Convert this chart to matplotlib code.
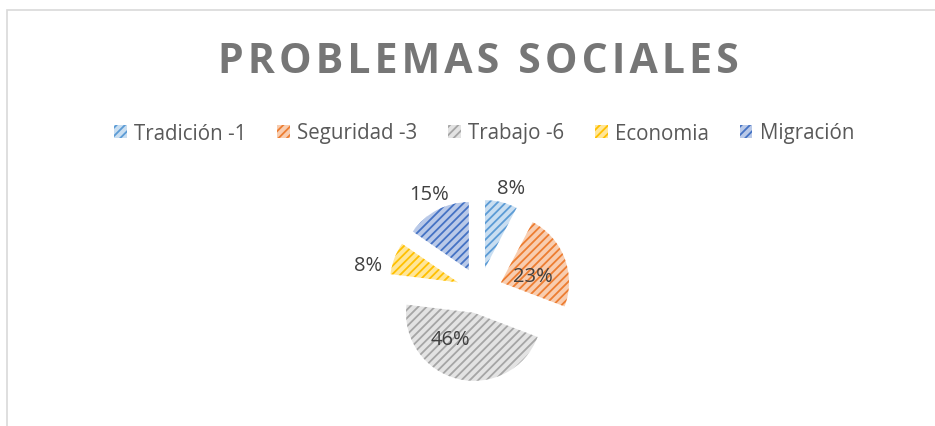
import matplotlib
matplotlib.use("Agg")
import matplotlib.pyplot as plt
from matplotlib.patches import Rectangle
import numpy as np

categories = ["Tradición -1", "Seguridad -3", "Trabajo -6", "Economia", "Migración"]
values = [1, 3, 6, 1, 2]
main_colors = ["#5B9BD5", "#ED7D31", "#A5A5A5", "#FFC000", "#4472C4"]
light_colors = ["#C9DEF1", "#F8CDB0", "#E3E3E3", "#FFE699", "#B9C9E8"]
title = "PROBLEMAS SOCIALES"

W, H = 935, 427
plt.rcParams['hatch.linewidth'] = 1.3
fig = plt.figure(figsize=(W / 100, H / 100), dpi=100)
fig.patch.set_facecolor("white")
ax = fig.add_axes([0, 0, 1, 1])

cx, cy, R = 479.5, H - 291.5, 68
explode = [23] * len(values)  # offset in pixel units of this axes
wedges, _ = ax.pie(values, colors=light_colors, startangle=90, counterclock=False,
                   explode=explode, radius=R, center=(cx, cy),
                   wedgeprops=dict(linewidth=0))
for w, mc in zip(wedges, main_colors):
    w.set_edgecolor(mc)
    w.set_linewidth(0)
    w.set_hatch("////")

ax.set_xlim(0, W)
ax.set_ylim(0, H)
ax.set_aspect("auto")
ax.axis("off")

# percentage labels
total = sum(values)
label_dist = [1.24, 0.48, 0.52, 1.35, 1.27]
label_dang = [-4, -10, -29, 10, 0]
for w, v, d, da in zip(wedges, values, label_dist, label_dang):
    ang = np.deg2rad((w.theta1 + w.theta2) / 2 + da)
    wx, wy = w.center
    ax.text(wx + d * R * np.cos(ang), wy + d * R * np.sin(ang),
            f"{100 * v / total:.0f}%", ha="center", va="center",
            fontsize=14.5, color="#404040", family="Open Sans")

# border
fig.add_artist(Rectangle((6.5 / W, -0.1), 2, (H - 11) / H + 0.1,
                         transform=fig.transFigure, fill=False,
                         edgecolor="#D9D9D9", linewidth=1.2))

spaced_title = "\u200a".join(title)
fig.text(478 / W, 1 - 63 / H, spaced_title, ha="center", va="center",
         fontsize=29.5, fontweight="bold", color="#767676",
         family=["Open Sans", "DejaVu Sans"])

leg = fig.legend(wedges, categories, ncol=5, loc="center",
                 bbox_to_anchor=(484 / W, 1 - 134 / H), frameon=False,
                 handlelength=0.62, handleheight=0.62,
                 handletextpad=0.35, columnspacing=1.5,
                 prop=dict(family="Open Sans", size=14.8))
for t in leg.get_texts():
    t.set_color("#595959")

fig.savefig("out.png", dpi=100)
